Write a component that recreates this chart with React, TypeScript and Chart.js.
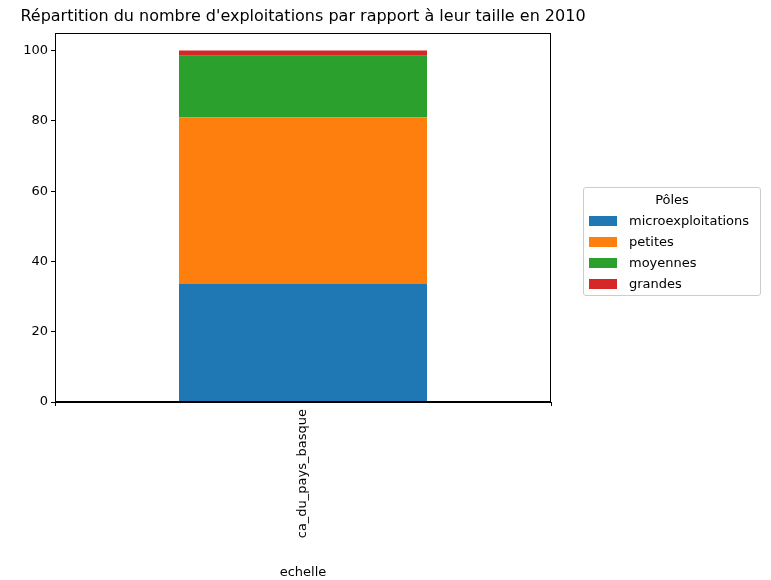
import React, { useEffect, useRef } from 'react';
import Chart from 'chart.js/auto';

const categories = ['ca_du_pays_basque'];
const seriesNames = ['microexploitations', 'petites', 'moyennes', 'grandes'];
const seriesValues = [[33.6], [47.4], [17.5], [1.5]];
const seriesColors = ['#1f77b4', '#ff7f0e', '#2ca02c', '#d62728'];
const yTicks = [0, 20, 40, 60, 80, 100];

const FONT = '"DejaVu Sans", sans-serif';

export default function App() {
  const canvasRef = useRef<HTMLCanvasElement>(null);

  useEffect(() => {
    document.body.style.margin = '0';
    if (!canvasRef.current) return;
    const chart = new Chart(canvasRef.current, {
      type: 'bar',
      data: {
        labels: categories,
        datasets: seriesNames.map((name, i) => ({
          label: name,
          data: seriesValues[i],
          backgroundColor: seriesColors[i],
          categoryPercentage: 1,
          barPercentage: 0.5,
        })),
      },
      options: {
        animation: false,
        responsive: false,
        devicePixelRatio: 1,
        layout: { padding: { left: 0, right: 220, top: 33, bottom: 0 } },
        plugins: { legend: { display: false }, title: { display: false }, tooltip: { enabled: false } },
        scales: {
          x: {
            stacked: true,
            grid: { drawOnChartArea: false, color: '#000', tickLength: 4 },
            border: { color: '#000' },
            ticks: { color: '#000', font: { family: FONT, size: 13 }, minRotation: 90, maxRotation: 90 },
            title: { display: true, text: 'echelle', color: '#000', font: { family: FONT, size: 13 }, padding: 0 },
            afterFit: (s: any) => { s.height = 178; },
          },
          y: {
            stacked: true,
            min: 0,
            max: 105,
            grid: { drawOnChartArea: false, color: '#000', tickLength: 4 },
            border: { color: '#000' },
            ticks: { color: '#000', font: { family: FONT, size: 13 }, stepSize: 20 },
            afterBuildTicks: (s: any) => { s.ticks = yTicks.map((v) => ({ value: v })); },
            afterFit: (s: any) => { s.width = 55; },
          },
        },
      },
      plugins: [{
        id: 'frame',
        afterDraw: (c: any) => {
          const { ctx, chartArea: a } = c;
          ctx.save();
          ctx.strokeStyle = '#000';
          ctx.lineWidth = 1;
          ctx.strokeRect(a.left + 0.5, a.top + 0.5, a.right - a.left - 1, a.bottom - a.top - 1);
          ctx.restore();
        },
      }],
    });
    return () => chart.destroy();
  }, []);

  return (
    <div style={{ position: 'relative', width: 771, height: 580, fontFamily: FONT, background: '#fff' }}>
      <canvas ref={canvasRef} width={771} height={580} />
      <div style={{ position: 'absolute', left: 0, width: 606, top: 6, textAlign: 'center', fontSize: 16 }}>
        Répartition du nombre d'exploitations par rapport à leur taille en 2010
      </div>
      <div style={{ position: 'absolute', left: 583, top: 187, width: 176, height: 107, border: '1px solid #ccc', borderRadius: 3, fontSize: 13 }}>
        <div style={{ textAlign: 'center', marginTop: 4, marginBottom: 3 }}>Pôles</div>
        {seriesNames.map((n, i) => (
          <div key={n} style={{ display: 'flex', alignItems: 'center', height: 21, paddingLeft: 5 }}>
            <span style={{ display: 'inline-block', width: 28, height: 10, background: seriesColors[i], marginRight: 12 }} />
            {n}
          </div>
        ))}
      </div>
    </div>
  );
}
